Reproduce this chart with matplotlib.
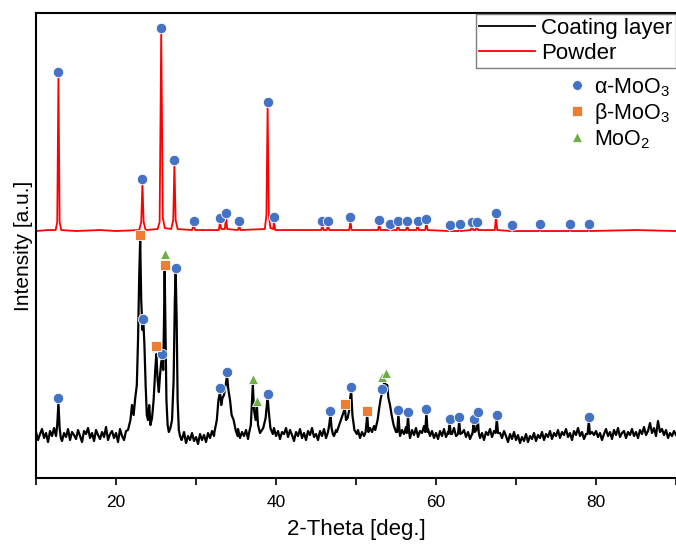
"""
XRD pattern: coating layer vs powder (alpha/beta-MoO3, MoO2 phases)
"""

import numpy as np
import matplotlib
matplotlib.use("Agg")
import matplotlib.pyplot as plt
from matplotlib.lines import Line2D
from matplotlib.ticker import MultipleLocator

# ===============================
# DATA  (2-theta in deg, intensity in a.u.)
# ===============================

# powder pattern: (2theta, intensity) vertices
powder_pts = [
    (10.0, 247), (11.5, 248), (12.45, 248), (12.65, 256), (12.8, 402), (12.95, 256), (13.15, 248),
    (15, 247), (18, 248), (20, 247), (22.9, 248), (23.15, 256), (23.3, 295), (23.45, 256), (23.7, 248),
    (25.2, 249), (25.45, 256), (25.65, 446), (25.85, 260), (26.1, 250), (26.9, 249), (27.15, 258),
    (27.3, 314), (27.45, 258), (27.7, 249), (29.5, 248), (29.7, 253), (29.9, 248), (32.85, 248),
    (33.0, 256), (33.15, 249), (33.6, 249), (33.75, 261), (33.9, 249), (35.25, 248), (35.4, 253),
    (35.55, 248), (38.6, 249), (38.8, 263), (38.95, 372), (39.1, 263), (39.3, 250), (39.65, 249),
    (39.75, 257), (39.9, 248), (42, 248), (45.65, 248), (45.8, 253), (45.95, 248), (46.35, 248),
    (46.5, 253), (46.65, 248), (49.15, 248), (49.3, 257), (49.45, 248), (52.75, 248), (52.9, 254),
    (53.05, 248), (54.15, 248), (54.3, 251), (54.45, 248), (55.1, 248), (55.25, 254), (55.4, 248),
    (56.25, 248), (56.4, 253), (56.55, 248), (57.55, 248), (57.7, 253), (57.85, 248), (58.65, 248),
    (58.8, 256), (58.95, 248), (61.55, 247), (61.7, 250), (61.85, 247), (62.8, 247), (62.95, 251),
    (63.1, 247), (64.35, 248), (64.5, 252), (64.65, 248), (64.95, 248), (65.1, 252), (65.25, 248),
    (67.35, 248), (67.5, 262), (67.65, 248), (69.35, 247), (69.5, 250), (69.65, 247), (72.85, 247),
    (73.0, 250), (73.15, 247), (76.6, 247), (76.75, 250), (76.9, 247), (78.95, 247), (79.1, 250),
    (79.25, 247), (85, 248), (90, 247),
]

# coating layer background, every 0.25 deg from 10 to 90
coat_background = [
    46, 38, 44, 49, 40, 45, 36, 47, 42, 50, 39, 44, 48, 37, 45, 41, 49, 38, 46, 43,
    39, 48, 42, 36, 47, 44, 50, 40, 45, 37, 48, 43, 39, 46, 41, 51, 38, 44, 47, 40,
    45, 36, 49, 42, 38, 47, 44, 52, 41, 46, 50, 55, 48, 60, 52, 58, 50, 55, 48, 52,
    48, 52, 46, 50, 44, 49, 42, 47, 45, 40, 47, 36, 44, 39, 46, 35, 42, 38, 45, 37,
    41, 34, 44, 38, 43, 36, 45, 40, 47, 42, 49, 44, 51, 46, 53, 49, 55, 50, 52, 47,
    44, 49, 40, 46, 42, 48, 39, 45, 43, 50, 41, 47, 44, 49, 42, 48, 40, 46, 43, 50,
    42, 47, 39, 46, 44, 50, 41, 48, 43, 37, 46, 42, 49, 40, 45, 38, 47, 43, 50, 41,
    44, 38, 47, 42, 49, 40, 46, 44, 51, 42, 48, 45, 53, 47, 50, 46, 52, 48, 45, 50,
    43, 48, 40, 46, 42, 49, 44, 50, 46, 52, 48, 55, 50, 57, 52, 58, 54, 50, 53, 48,
    45, 50, 42, 48, 44, 51, 46, 40, 48, 43, 50, 41, 47, 45, 52, 44, 49, 42, 47, 40,
    45, 39, 47, 42, 49, 41, 46, 38, 44, 50, 42, 47, 40, 45, 48, 41, 46, 39, 44, 49,
    42, 47, 40, 45, 38, 46, 43, 49, 41, 47, 44, 38, 45, 40, 47, 42, 36, 44, 39, 46,
    38, 43, 35, 41, 37, 44, 36, 42, 39, 45, 37, 43, 40, 46, 38, 44, 41, 47, 39, 45,
    42, 48, 40, 46, 43, 49, 41, 45, 38, 47, 43, 50, 42, 46, 39, 44, 48, 41, 46, 43,
    47, 41, 45, 38, 44, 49, 42, 46, 39, 48, 43, 50, 41, 45, 47, 40, 46, 43, 49, 42,
    46, 40, 48, 44, 51, 43, 47, 55, 45, 50, 42, 57, 46, 49, 43, 48, 40, 45, 42, 47,
    43,
]

# coating layer peak segments: (2theta, intensity) vertices
coat_peaks = [
    [(12.5, 42), (12.65, 53), (12.8, 75), (12.95, 50), (13.1, 40)],
    [(21.5, 48), (21.8, 58), (22.0, 73), (22.2, 63), (22.4, 80), (22.6, 93), (22.75, 138),
     (22.9, 203), (23.02, 238), (23.15, 178), (23.3, 148), (23.42, 156), (23.55, 133),
     (23.7, 93), (23.85, 63), (24.0, 58), (24.15, 73), (24.3, 53), (24.5, 60), (24.7, 78),
     (24.9, 108), (25.04, 124), (25.2, 98), (25.35, 86), (25.5, 103), (25.65, 116),
     (25.78, 120), (25.9, 108), (26.0, 158), (26.08, 208), (26.18, 148), (26.3, 78),
     (26.45, 53), (26.6, 46), (26.8, 50), (27.0, 58), (27.2, 98), (27.35, 178), (27.46, 206),
     (27.58, 158), (27.7, 78), (27.85, 48), (28.0, 42), (28.2, 38)],
    [(32.3, 46), (32.6, 58), (32.8, 78), (33.0, 86), (33.15, 73), (33.3, 80), (33.5, 83),
     (33.7, 93), (33.88, 102), (34.05, 88), (34.25, 78), (34.45, 63), (34.7, 58),
     (34.95, 48), (35.2, 42)],
    [(36.6, 44), (36.85, 53), (37.0, 78), (37.1, 94), (37.25, 68), (37.45, 58), (37.6, 73),
     (37.75, 53), (38.0, 45), (38.4, 50), (38.7, 60), (38.85, 73), (38.96, 80), (39.1, 66),
     (39.3, 50), (39.6, 44)],
    [(46.5, 46), (46.65, 53), (46.8, 63), (46.95, 50), (47.1, 44)],
    [(47.6, 46), (47.9, 53), (48.2, 60), (48.45, 66), (48.6, 70), (48.75, 58), (48.95, 60),
     (49.15, 68), (49.3, 82), (49.4, 87), (49.55, 63), (49.8, 48), (50.1, 44)],
    [(51.2, 46), (51.4, 63), (51.55, 46)],
    [(52.4, 48), (52.7, 58), (52.9, 70), (53.1, 80), (53.3, 86), (53.45, 93), (53.6, 100),
     (53.75, 88), (53.9, 93), (54.05, 80), (54.25, 73), (54.45, 63), (54.7, 53), (55.0, 46)],
    [(55.15, 46), (55.3, 64), (55.45, 46)],
    [(56.35, 45), (56.5, 62), (56.65, 45)],
    [(58.65, 46), (58.8, 65), (58.95, 46)],
    [(61.55, 44), (61.7, 55), (61.85, 44)],
    [(62.75, 44), (62.9, 57), (63.05, 44)],
    [(64.55, 44), (64.7, 55), (64.85, 46), (65.05, 48), (65.2, 62), (65.35, 45)],
    [(67.45, 45), (67.6, 59), (67.75, 45)],
    [(78.95, 44), (79.1, 57), (79.25, 44)],
]

# phase markers on the powder pattern (alpha-MoO3 only)
powder_alpha_x = [12.8, 23.3, 25.65, 27.3, 29.7, 33.0, 33.75, 35.4, 38.95, 39.75, 45.8, 46.5,
                  49.3, 52.9, 54.3, 55.25, 56.4, 57.7, 58.8, 61.7, 62.95, 64.5, 65.1, 67.5,
                  69.5, 73.0, 76.75, 79.1]
powder_alpha_y = [406, 299, 450, 318, 257, 260, 265, 257, 376, 261, 257, 257,
                  261, 258, 254, 257, 257, 257, 259, 253, 254, 256, 256, 265,
                  253, 254, 254, 254]

# phase markers on the coating layer pattern
coat_alpha_x = [12.8, 23.4, 25.75, 27.46, 33.0, 33.9, 38.96, 46.8, 49.4, 53.3, 55.3, 56.5,
                58.8, 61.7, 62.9, 64.7, 65.2, 67.6, 79.1]
coat_alpha_y = [80, 159, 124, 210, 90, 106, 84, 67, 91, 89, 68, 66,
                69, 59, 61, 59, 66, 63, 61]
coat_beta_x = [23.04, 25.04, 26.08, 48.6, 51.4]
coat_beta_y = [243, 132, 213, 74, 67]
coat_moo2_x = [26.08, 37.1, 37.6, 53.25, 53.75]
coat_moo2_y = [224, 99, 77, 101, 105]

# ===============================
# BUILD COATING TRACE
# ===============================

bg_x = np.linspace(10, 90, len(coat_background))
keep = np.ones(len(bg_x), dtype=bool)
for seg in coat_peaks:
    keep &= ~((bg_x >= seg[0][0]) & (bg_x <= seg[-1][0]))
pts = list(zip(bg_x[keep], np.array(coat_background)[keep]))
for seg in coat_peaks:
    pts += seg
pts.sort(key=lambda p: p[0])
coat_x, coat_y = zip(*pts)
powder_x, powder_y = zip(*powder_pts)

# ===============================
# PLOT
# ===============================

plt.rcParams["font.family"] = ["Liberation Sans", "DejaVu Sans"]
plt.rcParams["mathtext.fontset"] = "custom"
plt.rcParams["mathtext.rm"] = "Liberation Sans"

BLUE, ORANGE, GREEN = "#4472C4", "#ED7D31", "#70AD47"

fig = plt.figure(figsize=(6.76, 5.48), dpi=100)
ax = fig.add_axes([0.0533, 0.1277, 0.9467, 0.8485])

ax.plot(coat_x, coat_y, color="black", lw=1.6, zorder=2)
ax.plot(powder_x, powder_y, color="red", lw=1.3, zorder=2)

mk = dict(ls="none", mec="white", mew=0.6, zorder=3)
ax.plot(powder_alpha_x, powder_alpha_y, "o", color=BLUE, ms=7.5, **mk)
ax.plot(coat_alpha_x, coat_alpha_y, "o", color=BLUE, ms=7.5, **mk)
ax.plot(coat_beta_x, coat_beta_y, "s", color=ORANGE, ms=7, **mk)
ax.plot(coat_moo2_x, coat_moo2_y, "^", color=GREEN, ms=7.5, **mk)

ax.set_xlim(10, 90)
ax.set_ylim(0, 465)
ax.xaxis.set_major_locator(MultipleLocator(20))
ax.xaxis.set_minor_locator(MultipleLocator(10))
ax.tick_params(axis="x", which="both", direction="out", length=5, width=1.2, labelsize=12.5, pad=7)
ax.set_yticks([])
for s in ["left", "bottom", "top"]:
    ax.spines[s].set_linewidth(1.5)
ax.spines["right"].set_visible(False)

ax.set_xlabel("2-Theta [deg.]", fontsize=16, labelpad=7)
ax.set_ylabel("Intensity [a.u.]", fontsize=15, labelpad=2)

# line legend
line_handles = [Line2D([], [], color="black", lw=1.3), Line2D([], [], color="red", lw=1.3)]
leg1 = ax.legend(line_handles, ["Coating layer", "Powder"], loc="upper right",
                 bbox_to_anchor=(1.0, 0.997), fontsize=16, frameon=True, fancybox=False,
                 edgecolor="#7f7f7f", framealpha=1, borderpad=0.15, labelspacing=0.2,
                 handlelength=2.5, handletextpad=0.3, borderaxespad=0)
leg1.get_frame().set_linewidth(1.0)
ax.add_artist(leg1)

# phase legend
phase_handles = [
    Line2D([], [], ls="none", marker="o", color=BLUE, ms=7, mec="white", mew=0.5),
    Line2D([], [], ls="none", marker="s", color=ORANGE, ms=6.5, mec="white", mew=0.5),
    Line2D([], [], ls="none", marker="^", color=GREEN, ms=7, mec="white", mew=0.5),
]
ax.legend(phase_handles, ["α-MoO$_3$", "β-MoO$_3$", "MoO$_2$"], loc="upper left",
          bbox_to_anchor=(568 / 676, 1 - 76 / 548), bbox_transform=fig.transFigure,
          fontsize=15.5, frameon=False, handlelength=0.8, handletextpad=0.4,
          labelspacing=0.1, borderpad=0, borderaxespad=0)

fig.savefig("out.png", dpi=100)
